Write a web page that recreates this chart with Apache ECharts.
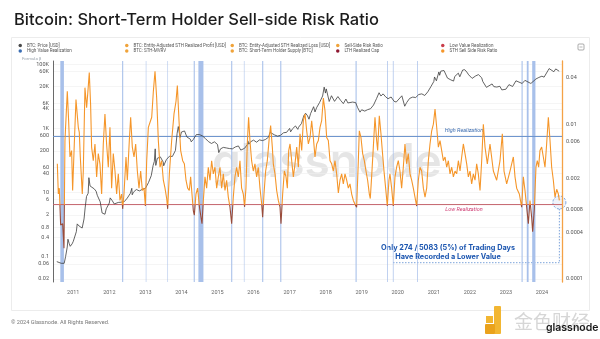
<!DOCTYPE html>
<html><head><meta charset="utf-8">
<script src="https://cdn.jsdelivr.net/npm/echarts@6/dist/echarts.min.js"></script>
<style>html,body{margin:0;padding:0;background:#fff}#c{width:600px;height:339px}</style>
</head><body><div id="c"></div><script>
// ---- data (dates as decimal years) ----
const priceDates = ['2010-07-18','2010-08-01','2010-09-01','2010-10-01','2010-10-15','2010-11-01','2010-11-08','2010-11-20','2010-12-01','2010-12-20',
'2011-01-01','2011-02-01','2011-02-10','2011-03-01','2011-04-01','2011-04-20','2011-05-01','2011-05-15','2011-06-01','2011-06-08','2011-06-20','2011-07-01','2011-08-01','2011-08-20','2011-09-01','2011-10-01','2011-10-20','2011-11-18','2011-12-01',
'2012-01-01','2012-01-10','2012-02-01','2012-02-20','2012-03-01','2012-04-01','2012-05-01','2012-06-01','2012-07-01','2012-08-01','2012-08-16','2012-08-20','2012-09-01','2012-10-01','2012-11-01','2012-12-01',
'2013-01-01','2013-02-01','2013-03-01','2013-03-20','2013-04-01','2013-04-10','2013-04-16','2013-05-01','2013-06-01','2013-07-01','2013-07-05','2013-08-01','2013-09-01','2013-10-01','2013-11-01','2013-11-18','2013-11-30','2013-12-18',
'2014-01-01','2014-02-01','2014-02-25','2014-03-01','2014-04-01','2014-04-10','2014-05-01','2014-06-01','2014-07-01','2014-08-01','2014-09-01','2014-10-01','2014-11-01','2014-12-01',
'2015-01-01','2015-01-14','2015-02-01','2015-03-01','2015-04-01','2015-05-01','2015-06-01','2015-07-01','2015-08-01','2015-08-25','2015-09-01','2015-10-01','2015-11-01','2015-11-04','2015-11-15','2015-12-01',
'2016-01-01','2016-02-01','2016-03-01','2016-04-01','2016-05-01','2016-06-01','2016-06-17','2016-07-01','2016-08-01','2016-09-01','2016-10-01','2016-11-01','2016-12-01',
'2017-01-01','2017-01-11','2017-02-01','2017-03-01','2017-03-25','2017-04-01','2017-05-01','2017-05-25','2017-06-01','2017-06-12','2017-07-01','2017-07-16','2017-08-01','2017-09-01','2017-09-15','2017-10-01','2017-11-01','2017-11-12','2017-12-01','2017-12-17','2017-12-30',
'2018-01-07','2018-02-06','2018-03-01','2018-04-01','2018-05-05','2018-06-01','2018-06-29','2018-07-25','2018-08-14','2018-09-01','2018-10-01','2018-11-01','2018-11-20','2018-12-15',
'2019-01-01','2019-02-01','2019-03-01','2019-04-01','2019-05-01','2019-06-01','2019-06-26','2019-07-15','2019-08-06','2019-09-01','2019-09-25','2019-10-26','2019-11-25','2019-12-17',
'2020-01-01','2020-02-12','2020-03-12','2020-04-01','2020-05-01','2020-06-01','2020-07-01','2020-08-01','2020-09-01','2020-10-01','2020-11-01','2020-12-01',
'2021-01-01','2021-01-08','2021-01-27','2021-02-21','2021-03-01','2021-03-13','2021-04-14','2021-05-01','2021-05-19','2021-06-01','2021-06-22','2021-07-20','2021-08-01','2021-09-06','2021-09-21','2021-10-20','2021-11-10','2021-12-01','2021-12-20',
'2022-01-01','2022-01-24','2022-02-01','2022-03-01','2022-03-29','2022-04-01','2022-05-01','2022-05-12','2022-06-01','2022-06-18','2022-07-01','2022-08-14','2022-09-01','2022-10-01','2022-11-01','2022-11-21','2022-12-01',
'2023-01-01','2023-02-01','2023-03-10','2023-04-13','2023-05-01','2023-06-15','2023-07-13','2023-08-01','2023-09-11','2023-10-01','2023-11-01','2023-12-01',
'2024-01-01','2024-01-23','2024-02-01','2024-03-01','2024-03-14','2024-04-01','2024-05-01','2024-05-20','2024-06-05','2024-06-24'];
const priceValues = [0.07,0.065,0.062,0.062,0.10,0.20,0.35,0.26,0.21,0.25,
0.30,0.60,1.05,0.90,0.78,1.5,3.3,7.5,9.5,29,16,15.5,13,11,8.2,5.1,2.3,2.1,3.1,
4.7,6.8,5.5,4.4,4.9,4.9,5.0,5.2,6.7,9.4,13.5,8.5,10.2,12.4,11.2,12.6,
13.5,20.4,33.5,70,93,230,70,116,129,88,68,106,135,133,205,700,1140,520,
770,830,540,570,460,380,450,640,640,585,480,388,338,380,
315,175,230,255,245,235,230,263,283,210,230,237,315,410,320,378,
430,370,437,416,450,530,750,675,625,572,610,730,750,
997,780,985,1190,930,1080,1420,2500,2400,2950,2480,1930,2870,4740,3250,4400,6460,5900,10200,19300,12600,
17000,6900,10400,6950,9800,7500,5900,8200,6200,7000,6600,6350,4500,3200,
3800,3450,3820,4100,5330,8550,12900,10200,11900,9600,8400,9500,7000,6600,
7200,10350,4900,6400,8600,9450,9140,11350,11900,10600,13800,19700,
29000,40000,30400,57500,45200,61000,63500,57800,37000,36700,32500,29800,41500,52700,40600,66000,67500,57000,46700,
47700,36200,38500,43200,47400,45500,37700,28900,31800,19000,19300,24300,20000,19400,20500,15800,17100,
16600,23100,20200,30400,28000,25100,31400,29200,25100,27000,34600,38700,
42300,39500,43100,62400,73100,69700,58300,71400,71000,60300];

const ratioYears = [2010.557,2010.585,2010.612,2010.649,2010.705,2010.742,2010.769,2010.834,2010.871,2010.908,2010.954,2010.982,
2011.028,2011.075,2011.139,2011.167,2011.195,2011.250,2011.278,2011.324,2011.370,2011.398,2011.444,2011.481,2011.509,2011.555,2011.602,2011.648,2011.694,2011.740,2011.787,2011.833,2011.879,2011.925,2011.972,
2012.018,2012.064,2012.110,2012.157,2012.203,2012.249,2012.295,2012.341,2012.369,2012.406,2012.462,2012.499,2012.554,2012.591,2012.637,2012.684,2012.730,2012.776,2012.822,2012.868,2012.915,2012.961,2012.998,
2013.035,2013.081,2013.127,2013.174,2013.220,2013.266,2013.312,2013.358,2013.405,2013.451,2013.497,2013.543,2013.590,2013.617,2013.664,2013.728,2013.793,2013.849,2013.886,2013.932,2013.978,
2014.034,2014.080,2014.126,2014.172,2014.218,2014.255,2014.292,2014.329,2014.357,2014.403,2014.449,2014.496,2014.542,2014.570,2014.607,2014.653,2014.699,2014.745,2014.792,2014.838,2014.884,2014.930,2014.977,
2015.023,2015.069,2015.115,2015.162,2015.208,2015.254,2015.300,2015.346,2015.393,2015.439,2015.485,2015.531,2015.578,2015.624,2015.670,2015.716,2015.753,2015.790,2015.827,2015.864,2015.901,2015.947,2015.994,
2016.040,2016.086,2016.132,2016.179,2016.225,2016.253,2016.290,2016.336,2016.382,2016.437,2016.474,2016.521,2016.548,2016.595,2016.641,2016.687,2016.733,2016.761,2016.807,2016.854,2016.900,2016.937,2016.974,
2017.011,2017.057,2017.103,2017.149,2017.196,2017.242,2017.288,2017.335,2017.381,2017.427,2017.473,2017.520,2017.566,2017.612,2017.658,2017.704,2017.751,2017.797,2017.843,2017.889,2017.936,2017.982,
2018.028,2018.074,2018.121,2018.167,2018.213,2018.259,2018.305,2018.352,2018.398,2018.444,2018.490,2018.537,2018.583,2018.629,2018.675,2018.722,2018.768,2018.814,2018.860,2018.907,2018.934,2018.980,
2019.027,2019.073,2019.119,2019.165,2019.212,2019.239,2019.276,2019.323,2019.369,2019.415,2019.443,2019.489,2019.535,2019.572,2019.619,2019.665,2019.711,2019.757,2019.785,2019.831,2019.877,2019.924,2019.970,
2020.016,2020.062,2020.109,2020.155,2020.201,2020.247,2020.293,2020.340,2020.386,2020.432,2020.478,2020.525,2020.571,2020.617,2020.663,2020.710,2020.756,2020.802,2020.848,2020.894,2020.941,2020.987,
2021.033,2021.079,2021.126,2021.172,2021.218,2021.264,2021.311,2021.357,2021.403,2021.449,2021.496,2021.542,2021.588,2021.634,2021.681,2021.727,2021.773,2021.819,2021.865,2021.912,2021.958,
2022.004,2022.050,2022.097,2022.143,2022.189,2022.235,2022.282,2022.328,2022.374,2022.421,2022.485,2022.559,2022.652,2022.744,2022.837,2022.901,2022.948,
2023.022,2023.114,2023.207,2023.253,2023.299,2023.373,2023.438,2023.484,2023.530,2023.577,2023.623,2023.669,2023.715,2023.743,2023.789,2023.835,2023.872,2023.909,2023.946,2023.993,
2024.039,2024.085,2024.131,2024.178,2024.224,2024.270,2024.316,2024.362,2024.409,2024.455,2024.483];
const ratioValues = [0.0031,0.00126,0.0015,0.0005,0.00052,0.00025,0.0062,0.027,0.0112,0.0038,0.0046,0.0014,
0.0056,0.021,0.0092,0.0079,0.0038,0.00126,0.0025,0.030,0.0165,0.024,0.047,0.018,0.0051,0.0034,0.0056,0.0021,0.0042,0.0031,0.00126,0.0056,0.0137,0.0056,0.0028,
0.0092,0.0015,0.0042,0.0025,0.00126,0.0023,0.00104,0.00126,0.00081,0.00126,0.0038,0.0019,0.0062,0.0124,0.0051,0.0038,0.0056,0.0025,0.0015,0.0025,0.0014,0.0015,0.00088,
0.0034,0.0092,0.0097,0.0124,0.027,0.049,0.022,0.0062,0.0028,0.0034,0.0019,0.0015,0.0011,0.00081,0.0023,0.0062,0.0137,0.020,0.032,0.0112,0.0046,
0.0034,0.0031,0.0019,0.0015,0.0014,0.0021,0.00126,0.00077,0.00067,0.00126,0.0015,0.00088,0.00063,0.00052,0.00104,0.0021,0.0015,0.0028,0.0019,0.0034,0.0023,0.0028,0.0015,
0.0021,0.0028,0.0015,0.0023,0.0014,0.0019,0.00115,0.00086,0.00052,0.00115,0.0021,0.0028,0.0021,0.0034,0.0015,0.00126,0.00086,0.0015,0.0056,0.0124,0.0062,0.0034,0.0025,
0.0031,0.0021,0.0028,0.0015,0.00095,0.00063,0.00126,0.0025,0.0034,0.0068,0.0097,0.0051,0.0031,0.0023,0.0014,0.00104,0.00086,0.00052,0.00126,0.0025,0.0021,0.0015,0.0046,
0.0056,0.0034,0.0021,0.0031,0.0051,0.0028,0.0076,0.0046,0.0112,0.0137,0.0083,0.0056,0.0068,0.0112,0.0068,0.0038,0.0056,0.0062,0.0092,0.0112,0.022,0.015,
0.0068,0.0062,0.0034,0.0031,0.0025,0.0034,0.0023,0.0013,0.0019,0.0023,0.0017,0.0023,0.0019,0.0015,0.0017,0.00126,0.00104,0.00093,0.00085,0.0034,0.0083,0.0068,
0.0042,0.0034,0.0025,0.0019,0.00126,0.0011,0.0021,0.0051,0.0124,0.0062,0.0046,0.013,0.0076,0.0046,0.0025,0.0015,0.00088,0.0019,0.0023,0.0015,0.00088,0.0021,0.0028,
0.0034,0.0025,0.0015,0.0028,0.0056,0.0031,0.0042,0.0023,0.0019,0.0015,0.00115,0.00088,0.0019,0.0028,0.0025,0.0015,0.00115,0.0015,0.0034,0.0056,0.0083,0.0101,
0.0158,0.0092,0.0051,0.0062,0.0046,0.0034,0.0038,0.0028,0.0034,0.0023,0.0028,0.0021,0.0025,0.0023,0.0034,0.0025,0.0038,0.0056,0.0042,0.0031,0.0021,
0.0025,0.0017,0.0023,0.0019,0.0031,0.0023,0.0014,0.0034,0.0101,0.0051,0.0031,0.0056,0.0025,0.0019,0.0034,0.0076,0.0025,
0.0017,0.0025,0.0038,0.0021,0.0015,0.00126,0.00085,0.0021,0.0014,0.00086,0.00052,0.00104,0.00063,0.00041,0.0008,0.0028,0.0034,0.0028,0.0046,0.0051,
0.0038,0.0028,0.0056,0.0124,0.0062,0.0028,0.0019,0.00115,0.00145,0.00126,0.00104];

const highValue = 0.0070;   // High Realization threshold
const lowValue = 0.00092;   // Low Realization threshold
const lowBands = [[2010.64,2010.74],[2012.355,2012.385],[2013.01,2013.025],[2013.612,2013.627],[2014.34,2014.37],[2014.47,2014.61],
[2015.38,2015.41],[2015.733,2015.748],[2016.24,2016.27],[2016.74,2016.77],[2018.83,2018.86],[2019.705,2019.725],[2019.865,2019.885],
[2020.535,2020.555],[2023.435,2023.465],[2023.58,2023.63],[2023.73,2023.82]];
const leftTicks = [0.02,0.06,0.1,0.4,0.8,2,6,10,40,60,200,600,1000,4000,6000,20000,60000,100000];
const rightTicks = [0.0001,0.0004,0.0008,0.002,0.006,0.01,0.04];
const legendCols = [
  ['BTC: Price [USD]','High Value Realization'],
  ['BTC: Entity-Adjusted STH Realized Profit [USD]','BTC: STH-MVRV'],
  ['BTC: Entity-Adjusted STH Realized Loss [USD]','BTC: Short-Term Holder Supply [BTC]'],
  ['Sell-Side Risk Ratio','LTH Realized Cap'],
  ['Low Value Realization','STH Sell Side Risk Ratio']
];

// ---- helpers ----
function yr(t){const y=Math.floor(t);const a=Date.UTC(y,0,1),b=Date.UTC(y+1,0,1);return a+(t-y)*(b-a);}
const xMin = yr(2010.437), xMax = yr(2024.556);
const price = priceDates.map((d,i)=>[d, priceValues[i]]);
const ratio = ratioYears.map((t,i)=>[yr(t), ratioValues[i]]);
const FONT = 'Inter, Roboto, sans-serif';
function fmtL(v){v=+(+v).toPrecision(3);return v>=1000?(v/1000)+'K':String(v);}
function fmtR(v){return String(+(+v).toPrecision(2));}

const ORANGE='#f5962a';
const chart = echarts.init(document.getElementById('c'), null, {renderer:'canvas'});
const legendX=[18.5,125,230.5,336,441];
const legendColor = {
 'BTC: Price [USD]':'#4a4a4a','High Value Realization':'#3a6db3',
 'BTC: Entity-Adjusted STH Realized Profit [USD]':'#f0a33a','BTC: STH-MVRV':'#f0a33a',
 'BTC: Entity-Adjusted STH Realized Loss [USD]':'#f0a33a','BTC: Short-Term Holder Supply [BTC]':'#f0a33a',
 'Sell-Side Risk Ratio':'#f0a33a','LTH Realized Cap':'#8e1730','Low Value Realization':'#c93d4a','STH Sell Side Risk Ratio':ORANGE
};
const drawn = ['BTC: Price [USD]','STH Sell Side Risk Ratio','High Value Realization','Low Value Realization'];
const emptySeries = Object.keys(legendColor).filter(n=>drawn.indexOf(n)<0).map(n=>({
  name:n,type:'line',data:[],symbol:'none',itemStyle:{color:legendColor[n]},lineStyle:{color:legendColor[n]}
}));

chart.setOption({
  animation:false,
  backgroundColor:'#ffffff',
  title:{text:'Bitcoin: Short-Term Holder Sell-side Risk Ratio',left:9,top:7,
    textStyle:{fontFamily:FONT,fontSize:16.5,fontWeight:500,color:'#1b1b1b'}},
  legend: legendCols.map((names,i)=>({
    orient:'vertical',left:legendX[i],top:43,padding:0,itemWidth:3.5,itemHeight:3.5,itemGap:0.6,icon:'circle',
    selectedMode:false,data:names,textStyle:{fontFamily:'Roboto, sans-serif',fontSize:4.5,color:'#555'}
  })),
  grid:{left:53,right:38,top:61,bottom:57},
  xAxis:{type:'time',min:xMin,max:xMax,
    minInterval:365*86400000,maxInterval:366*86400000,
    axisLine:{show:false},axisTick:{show:false},splitLine:{show:false},
    axisLabel:{formatter:'{yyyy}',fontFamily:'Roboto, sans-serif',fontSize:5.5,color:'#666',margin:8,showMinLabel:false,showMaxLabel:false}},
  yAxis:[
    {type:'log',min:0.0162,max:126000,position:'left',
      axisLine:{show:true,lineStyle:{color:'#444',width:0.8}},axisTick:{show:false,customValues:leftTicks},
      splitLine:{show:true,lineStyle:{color:'#efefef',width:0.6}},
      axisLabel:{customValues:leftTicks,formatter:fmtL,fontFamily:'Roboto, sans-serif',fontSize:5.5,color:'#555',margin:4}},
    {type:'log',min:0.0000915,max:0.0664,position:'right',
      axisLine:{show:true,lineStyle:{color:'#f4a246',width:1.3}},axisTick:{show:false,customValues:rightTicks},
      splitLine:{show:false},
      axisLabel:{customValues:rightTicks,formatter:fmtR,fontFamily:'Roboto, sans-serif',fontSize:5.5,color:'#555',margin:4}}
  ],
  visualMap:{type:'piecewise',show:false,seriesIndex:1,dimension:1,
    pieces:[{gt:0.00001,lt:lowValue,color:'#9a4c3a'},{gte:lowValue,lt:1,color:ORANGE}]},
  series:[
    {name:'BTC: Price [USD]',type:'line',yAxisIndex:0,data:price,symbol:'none',z:3,
      lineStyle:{width:0.8,color:'#3c3c3c'},itemStyle:{color:'#4a4a4a'}},
    {name:'STH Sell Side Risk Ratio',type:'line',yAxisIndex:1,data:ratio,symbol:'none',z:4,
      lineStyle:{width:1.1},itemStyle:{color:ORANGE}},
    {name:'High Value Realization',type:'line',yAxisIndex:1,data:[[xMin,highValue],[xMax,highValue]],symbol:'none',z:2,
      lineStyle:{width:1,color:'#6b94cd'},itemStyle:{color:'#3a6db3'}},
    {name:'Low Value Realization',type:'line',yAxisIndex:1,data:[[xMin,lowValue],[xMax,lowValue]],symbol:'none',z:1,
      lineStyle:{width:1,color:'#c4646c'},itemStyle:{color:'#c93d4a'},
      markArea:{silent:true,itemStyle:{color:'#a8c0ea'},data:lowBands.map(b=>[{xAxis:yr(b[0])},{xAxis:yr(b[1])}])}}
  ].concat(emptySeries)
});

// annotation graphics
const last = ratio[ratio.length-1];
const p = chart.convertToPixel({xAxisIndex:0,yAxisIndex:1}, last);
const annY = 262.7, annX0 = 393;
chart.setOption({graphic:[
  {type:'rect',z:-10,shape:{x:11.5,y:37.5,width:578,height:273},style:{fill:'none',stroke:'#ececec',lineWidth:1}},
  {type:'text',z:-5,x:212,y:140,style:{text:'glassnode',fontFamily:FONT,fontSize:46,fontWeight:600,fill:'rgba(190,190,190,0.4)'}},
  {type:'text',x:22,y:56.8,style:{text:'Formula β',fontFamily:'Roboto, sans-serif',fontSize:4.3,fill:'#9aa3ad'}},
  {type:'rect',shape:{x:578,y:44,width:6,height:6,r:1},style:{fill:'none',stroke:'#888',lineWidth:0.7}},
  {type:'line',shape:{x1:579.5,y1:47,x2:582.5,y2:47},style:{stroke:'#888',lineWidth:0.6}},
  {type:'text',x:464,y:131,style:{text:'High Realization',fontFamily:'Roboto, sans-serif',fontSize:5.5,fontStyle:'italic',fill:'#3d6db0',align:'center',verticalAlign:'middle',textAlign:'center',textVerticalAlign:'middle'}},
  {type:'text',x:464,y:209.5,style:{text:'Low Realization',fontFamily:'Roboto, sans-serif',fontSize:5.5,fontStyle:'italic',fill:'#cf3e74',align:'center',verticalAlign:'middle',textAlign:'center',textVerticalAlign:'middle'}},
  {type:'text',x:448,y:248,style:{text:'Only 274 / 5083 (5%) of Trading Days',fontFamily:FONT,fontSize:7.3,fontWeight:700,fill:'#1c56b0',align:'center',verticalAlign:'middle',textAlign:'center',textVerticalAlign:'middle'}},
  {type:'text',x:448,y:257,style:{text:'Have Recorded a Lower Value',fontFamily:FONT,fontSize:7.3,fontWeight:700,fill:'#1c56b0',align:'center',verticalAlign:'middle',textAlign:'center',textVerticalAlign:'middle'}},
  {type:'circle',shape:{cx:p[0],cy:p[1]+2,r:6.5},style:{fill:'rgba(120,160,220,0.12)',stroke:'#5b8bd0',lineWidth:0.8,lineDash:[2,1.5]}},
  {type:'line',shape:{x1:p[0],y1:p[1]+8.5,x2:p[0],y2:annY},style:{stroke:'#5b8bd0',lineWidth:0.8,lineDash:[1.5,1.5]}},
  {type:'line',shape:{x1:annX0,y1:annY,x2:p[0],y2:annY},style:{stroke:'#5b8bd0',lineWidth:0.8,lineDash:[1.5,1.5]}},
  {type:'text',x:11,y:320,style:{text:'© 2024 Glassnode. All Rights Reserved.',fontFamily:'Roboto, sans-serif',fontSize:5.6,fill:'#777'}},
  {type:'rect',shape:{x:486,y:316,width:7,height:7},style:{fill:'#f2b632'}},
  {type:'rect',shape:{x:494,y:306,width:7,height:28,r:1},style:{fill:'#f2b632'}},
  {type:'rect',shape:{x:485,y:324,width:10,height:10,r:1},style:{fill:'#eaa21c'}},
  {type:'text',x:514,y:312,style:{text:'金色财经',fontFamily:'Noto Sans CJK SC',fontSize:19,fill:'#d6d6d6'}},
  {type:'text',x:546,y:322,style:{text:'glassnode',fontFamily:FONT,fontSize:10.5,fontWeight:600,fill:'#1a1a1a'}}
]});
</script></body></html>
